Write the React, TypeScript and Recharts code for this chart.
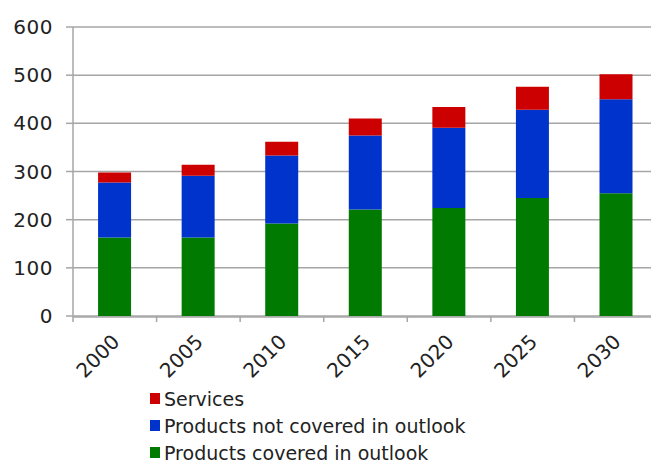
import { BarChart, Bar, XAxis, YAxis, CartesianGrid, Legend } from 'recharts';

const years = ['2000', '2005', '2010', '2015', '2020', '2025', '2030'];
const covered = [163, 163, 192, 221, 224, 245, 255];
const notCovered = [114, 128, 141, 154, 167, 183, 195];
const services = [21, 23, 29, 35, 43, 48, 52];
const yTicks = [0, 100, 200, 300, 400, 500, 600];
const boundaryTicks = [0, 1, 2, 3, 4, 5, 6, 7];

const data = years.map((year, i) => ({
    year,
    slot: i + 0.5,
    covered: covered[i],
    notCovered: notCovered[i],
    services: services[i],
}));

const FONT = '"DejaVu Sans", Verdana, sans-serif';
const GRID = '#a6a6a6';

const YearTick = ({ x, y, payload }: any) => (
    <g transform={`translate(${x - 4},${y + 8})`}>
        <text
            transform="rotate(-45)"
            textAnchor="end"
            dy="0.7em"
            fontSize={20}
            fontFamily={FONT}
            fill="#222"
        >
            {payload.value}
        </text>
    </g>
);

const NoTick = () => <g />;

const renderLegend = (props: any) => {
    const items = [...(props.payload || [])].reverse();
    return (
        <div style={{ fontFamily: FONT, fontSize: 19, color: '#222' }}>
            {items.map((item: any) => (
                <div key={item.value} style={{ display: 'flex', alignItems: 'center', height: 27 }}>
                    <span style={{ width: 10, height: 11, background: item.color, marginRight: 4 }} />
                    <span>{item.value}</span>
                </div>
            ))}
        </div>
    );
};

export default function App() {
    return (
        <div style={{ position: 'absolute', left: 0, top: 0, width: 651, height: 464, overflow: 'hidden', background: '#fff' }}>
            <BarChart
                width={670}
                height={464}
                data={data}
                margin={{ top: 27, right: 12, left: 13, bottom: 78 }}
                barCategoryGap="30%"
            >
                <CartesianGrid vertical={false} stroke={GRID} strokeWidth={1.5} />
                {/* hidden number axis: only draws tick marks between the categories */}
                <XAxis
                    xAxisId={0}
                    type="number"
                    dataKey="slot"
                    domain={[0, 7]}
                    allowDataOverflow
                    ticks={boundaryTicks}
                    interval={0}
                    height={1}
                    tick={<NoTick />}
                    axisLine={false}
                    tickLine={{ stroke: GRID, strokeWidth: 1.5 }}
                    tickSize={6}
                />
                <XAxis
                    xAxisId="cat"
                    dataKey="year"
                    height={69}
                    interval={0}
                    tick={<YearTick />}
                    tickLine={false}
                    axisLine={{ stroke: GRID, strokeWidth: 1.5 }}
                />
                <YAxis
                    domain={[0, 600]}
                    ticks={yTicks}
                    width={60}
                    tickSize={7}
                    tickMargin={13}
                    axisLine={{ stroke: GRID, strokeWidth: 1.5 }}
                    tickLine={{ stroke: GRID, strokeWidth: 1.5 }}
                    tick={{ fontSize: 20, fontFamily: FONT, fill: '#222', letterSpacing: 0.5 }}
                />
                <Legend
                    layout="horizontal"
                    align="center"
                    verticalAlign="middle"
                    wrapperStyle={{ top: 385, left: 150, width: 400 }}
                    content={renderLegend}
                />
                <Bar xAxisId="cat" dataKey="covered" name="Products covered in outlook" stackId="a" fill="#007a00" isAnimationActive={false} />
                <Bar xAxisId="cat" dataKey="notCovered" name="Products not covered in outlook" stackId="a" fill="#0033cc" isAnimationActive={false} />
                <Bar xAxisId="cat" dataKey="services" name="Services" stackId="a" fill="#cc0000" isAnimationActive={false} />
            </BarChart>
        </div>
    );
}
